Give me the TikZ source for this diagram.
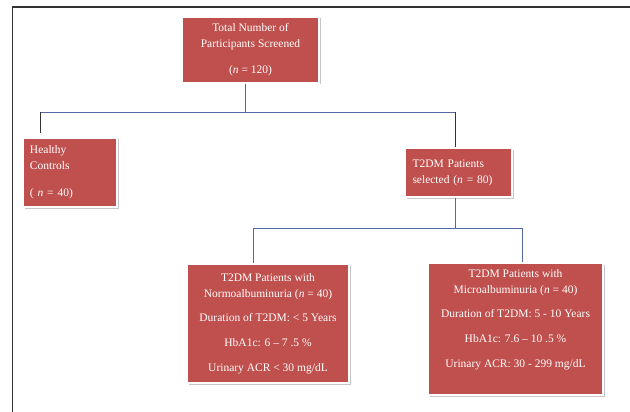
\documentclass[tikz,border=0pt]{standalone}
\usepackage{fontspec}
\setmainfont{Liberation Serif}
\usetikzlibrary{shadows}
\definecolor{boxred}{HTML}{C0504D}
\definecolor{linkblue}{HTML}{5468A6}

\begin{document}
\begin{tikzpicture}[x=1pt,y=-1pt,
  box/.style={draw=white,line width=1.5pt,fill=boxred,text=white,inner sep=0pt,
    font=\fontsize{11.5}{16}\selectfont,
    drop shadow={shadow xshift=1.5pt,shadow yshift=-1.5pt,opacity=.45,fill=gray}},
  link/.style={linkblue,line width=.8pt},
  darklink/.style={black!80,line width=.8pt}]
\useasboundingbox (0,0) rectangle (630,412);
\draw[gray!40!black,line width=1.2pt] (12.5,412) -- (12.5,7) -- (630,7);

\node[box,minimum width=137pt,minimum height=66pt,align=center] (total) at (250.5,50)
  {Total Number of\\Participants Screened\\[10pt](\textit{n} = 120)};
\node[box,minimum width=94pt,minimum height=69pt,align=left,text width=80pt] (healthy) at (70,172.5)
  {Healthy\\Controls\\[11pt]( \textit{n} = 40)};
\node[box,minimum width=107pt,minimum height=49pt,align=left,text width=92pt] (t2dm) at (458.5,172.5)
  {T2DM Patients\\selected (\textit{n} = 80)};
\node[box,minimum width=162pt,minimum height=119pt,align=center] (normo) at (268,323.5)
  {T2DM Patients with\\Normoalbuminuria (\textit{n} = 40)\\[8pt]Duration of T2DM: < 5 Years\\[9pt]HbA1c: 6 -- 7 .5 \%\\[9pt]Urinary ACR < 30 mg/dL};
\node[box,minimum width=175pt,minimum height=132pt,align=center] (micro) at (515.5,329)
  {T2DM Patients with\\Microalbuminuria (\textit{n} = 40)\\[8pt]Duration of T2DM: 5 - 10 Years\\[9pt]HbA1c: 7.6 -- 10 .5 \%\\[9pt]Urinary ACR: 30 - 299 mg/dL\\[4pt]\mbox{}};

\coordinate (split) at (245,112);
\coordinate (hleft) at (40,112);
\coordinate (hright) at (455,112);
\draw[link] (total.south -| split) -- (split);
\draw[link] (hleft) -- (hright);
\draw[darklink] (hleft) -- ++(0,21);
\draw[darklink] (hright) -- (hright |- t2dm.north);

\coordinate (split2) at (455,228);
\coordinate (lleft) at (253,228);
\coordinate (lright) at (522,228);
\draw[link] (t2dm.south -| split2) -- (split2);
\draw[link] (lleft) -- (lright);
\draw[link] (lleft) -- (lleft |- normo.north);
\draw[link] (lright) -- (lright |- micro.north);
\end{tikzpicture}
\end{document}
